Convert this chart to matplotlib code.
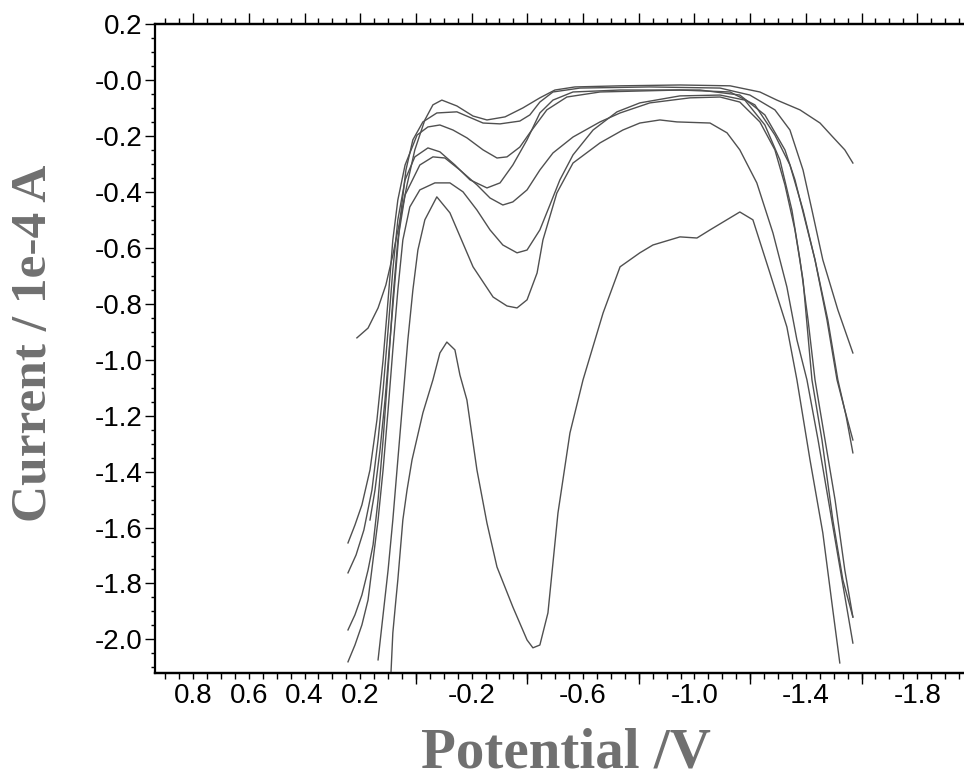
import numpy as np
import matplotlib.pyplot as plt
from matplotlib.ticker import MultipleLocator

# potential (V) / current (1e-4 A), one pair per sweep
curve_a_v = [0.212, 0.172, 0.136, 0.108, 0.083, 0.057, 0.032, 0.004, -0.032, -0.061, -0.093, -0.147,
             -0.205, -0.255, -0.320, -0.384, -0.445, -0.499, -0.571, -0.733, -0.948, -1.128, -1.235,
             -1.296, -1.379, -1.451, -1.497, -1.540, -1.569]
curve_a_i = [-0.922, -0.887, -0.815, -0.733, -0.626, -0.500, -0.375, -0.250, -0.143, -0.089, -0.072, -0.093,
             -0.129, -0.143, -0.132, -0.100, -0.064, -0.036, -0.025, -0.021, -0.018, -0.021, -0.043,
             -0.072, -0.107, -0.154, -0.204, -0.250, -0.297]

curve_b_v = [0.165, 0.147, 0.129, 0.111, 0.093, 0.075, 0.057, 0.036, 0.011, -0.025, -0.075, -0.147,
             -0.241, -0.302, -0.373, -0.409, -0.445, -0.492, -0.589, -0.840, -1.092, -1.199, -1.289,
             -1.343, -1.390, -1.422, -1.461, -1.515, -1.569]
curve_b_i = [-1.573, -1.466, -1.323, -1.144, -0.929, -0.715, -0.500, -0.322, -0.214, -0.150, -0.118, -0.114,
             -0.154, -0.157, -0.147, -0.125, -0.079, -0.043, -0.029, -0.025, -0.029, -0.054, -0.107,
             -0.179, -0.322, -0.465, -0.643, -0.822, -0.976]

curve_c_v = [0.244, 0.219, 0.194, 0.165, 0.140, 0.118, 0.100, 0.083, 0.065, 0.039, -0.004, -0.043, -0.086,
             -0.133, -0.183, -0.241, -0.291, -0.327, -0.373, -0.409, -0.470, -0.542, -0.661, -0.948,
             -1.128, -1.217, -1.289, -1.343, -1.390, -1.433, -1.476, -1.512, -1.540, -1.569]
curve_c_i = [-1.655, -1.591, -1.519, -1.394, -1.215, -1.001, -0.786, -0.572, -0.429, -0.304, -0.197, -0.168,
             -0.161, -0.179, -0.207, -0.250, -0.279, -0.275, -0.240, -0.189, -0.107, -0.061, -0.043,
             -0.036, -0.043, -0.089, -0.197, -0.304, -0.465, -0.643, -0.858, -1.072, -1.180, -1.287]

curve_d_v = [0.244, 0.215, 0.187, 0.158, 0.136, 0.118, 0.100, 0.083, 0.065, 0.039, 0.004, -0.043, -0.086,
             -0.140, -0.194, -0.255, -0.302, -0.348, -0.399, -0.445, -0.492, -0.564, -0.733, -1.020,
             -1.163, -1.253, -1.325, -1.361, -1.397, -1.433, -1.479, -1.515, -1.544, -1.569]
curve_d_i = [-1.762, -1.698, -1.609, -1.466, -1.287, -1.108, -0.894, -0.679, -0.500, -0.357, -0.275, -0.243,
             -0.257, -0.304, -0.357, -0.386, -0.368, -0.304, -0.214, -0.118, -0.072, -0.043, -0.036,
             -0.036, -0.054, -0.125, -0.250, -0.357, -0.500, -0.643, -0.858, -1.072, -1.198, -1.333]

curve_e_v = [0.244, 0.219, 0.194, 0.172, 0.154, 0.136, 0.118, 0.100, 0.083, 0.065, 0.039, -0.014, -0.061,
             -0.104, -0.158, -0.219, -0.266, -0.312, -0.348, -0.399, -0.445, -0.492, -0.564, -0.661,
             -0.733, -0.840, -0.984, -1.092, -1.163, -1.235, -1.289, -1.325, -1.361, -1.390, -1.422,
             -1.458, -1.497, -1.533, -1.569]
curve_e_i = [-1.966, -1.912, -1.841, -1.752, -1.662, -1.501, -1.287, -1.037, -0.786, -0.572, -0.411, -0.304,
             -0.275, -0.279, -0.322, -0.375, -0.422, -0.447, -0.436, -0.393, -0.322, -0.261, -0.204,
             -0.150, -0.118, -0.082, -0.064, -0.061, -0.079, -0.150, -0.250, -0.375, -0.536, -0.715,
             -1.072, -1.287, -1.573, -1.787, -1.920]

curve_f_v = [0.244, 0.219, 0.194, 0.172, 0.154, 0.136, 0.118, 0.100, 0.083, 0.065, 0.047, 0.022, -0.014,
             -0.068, -0.122, -0.169, -0.219, -0.266, -0.312, -0.363, -0.399, -0.445, -0.481, -0.517,
             -0.564, -0.636, -0.722, -0.804, -0.948, -1.092, -1.181, -1.253, -1.307, -1.350, -1.379,
             -1.408, -1.433, -1.469, -1.505, -1.540, -1.569]
curve_f_i = [-2.080, -2.020, -1.948, -1.859, -1.716, -1.573, -1.394, -1.180, -0.965, -0.751, -0.572, -0.454,
             -0.393, -0.368, -0.368, -0.400, -0.465, -0.536, -0.590, -0.618, -0.608, -0.536, -0.447,
             -0.357, -0.268, -0.179, -0.114, -0.082, -0.057, -0.054, -0.072, -0.161, -0.286, -0.465,
             -0.643, -0.858, -1.072, -1.287, -1.501, -1.752, -1.920]

curve_g_v = [0.136, 0.118, 0.100, 0.083, 0.065, 0.047, 0.029, 0.011, -0.007, -0.032, -0.075, -0.122, -0.205,
             -0.277, -0.327, -0.363, -0.399, -0.435, -0.456, -0.506, -0.564, -0.661, -0.743, -0.804,
             -0.876, -0.937, -1.056, -1.117, -1.163, -1.224, -1.282, -1.332, -1.368, -1.404, -1.444,
             -1.487, -1.530, -1.569]
curve_g_i = [-2.073, -1.912, -1.752, -1.573, -1.358, -1.144, -0.929, -0.751, -0.608, -0.500, -0.418, -0.475,
             -0.668, -0.776, -0.808, -0.815, -0.786, -0.690, -0.572, -0.404, -0.297, -0.225, -0.179,
             -0.154, -0.143, -0.150, -0.154, -0.189, -0.250, -0.368, -0.547, -0.740, -0.929, -1.072,
             -1.287, -1.537, -1.787, -2.013]

curve_h_v = [0.090, 0.083, 0.072, 0.065, 0.047, 0.032, 0.014, -0.025, -0.061, -0.086, -0.111, -0.140,
             -0.158, -0.183, -0.219, -0.255, -0.291, -0.348, -0.399, -0.420, -0.445, -0.474, -0.510,
             -0.553, -0.600, -0.672, -0.733, -0.804, -0.851, -0.948, -1.009, -1.056, -1.163, -1.210,
             -1.271, -1.332, -1.368, -1.415, -1.461, -1.497, -1.522]
curve_h_i = [-2.127, -1.977, -1.859, -1.787, -1.573, -1.466, -1.358, -1.190, -1.072, -0.976, -0.937, -0.965,
             -1.055, -1.144, -1.394, -1.584, -1.741, -1.884, -2.002, -2.030, -2.020, -1.905, -1.548,
             -1.262, -1.072, -0.833, -0.668, -0.618, -0.590, -0.561, -0.565, -0.536, -0.472, -0.500,
             -0.690, -0.883, -1.072, -1.358, -1.619, -1.895, -2.084]

xtick_pos = [0.8, 0.6, 0.4, 0.2, -0.2, -0.6, -1.0, -1.4, -1.8]
xtick_labels = ['0.8', '0.6', '0.4', '0.2', '-0.2', '-0.6', '-1.0', '-1.4', '-1.8']
ytick_pos = [0.2, 0.0, -0.2, -0.4, -0.6, -0.8, -1.0, -1.2, -1.4, -1.6, -1.8, -2.0]
ytick_labels = ['0.2', '-0.0', '-0.2', '-0.4', '-0.6', '-0.8', '-1.0', '-1.2', '-1.4', '-1.6', '-1.8', '-2.0']
bottom_long_ticks = [0.0, -0.4, -0.8, -1.2, -1.6]
top_major_ticks = [0.8, 0.6, 0.4, 0.2, 0.0, -0.2, -0.4, -0.6, -0.8, -1.0, -1.2, -1.4, -1.6, -1.8]

curves = [
    (curve_a_v, curve_a_i), (curve_b_v, curve_b_i), (curve_c_v, curve_c_i), (curve_d_v, curve_d_i),
    (curve_e_v, curve_e_i), (curve_f_v, curve_f_i), (curve_g_v, curve_g_i), (curve_h_v, curve_h_i),
]

plt.rcParams['font.family'] = ['Liberation Sans', 'DejaVu Sans']

fig = plt.figure(figsize=(9.64, 7.78), dpi=100)
ax = fig.add_axes([155 / 964, 1 - 673 / 778, 809 / 964, 649 / 778])

for v, i in curves:
    ax.plot(v, i, color='#505050', lw=1.0)

ax.set_xlim(0.937, -1.968)
ax.set_ylim(-2.12, 0.2)

ax.spines['right'].set_visible(False)
for s in ['top', 'left', 'bottom']:
    ax.spines[s].set_linewidth(1.6)

ax.set_xticks(xtick_pos)
ax.set_xticklabels(xtick_labels)
ax.xaxis.set_minor_locator(MultipleLocator(0.05))
ax.set_yticks(ytick_pos)
ax.set_yticklabels(ytick_labels)
ax.yaxis.set_minor_locator(MultipleLocator(0.05))
ax.tick_params(which='major', direction='out', length=4, width=1, labelsize=20, pad=3)
ax.tick_params(which='minor', direction='out', length=4, width=1)
ax.tick_params(axis='y', which='major', length=7, pad=2)
ax.tick_params(axis='y', which='minor', length=3)

# longer bottom ticks every 0.4 V
bot = ax.secondary_xaxis('bottom')
bot.set_xticks(bottom_long_ticks)
bot.set_xticklabels([])
bot.tick_params(direction='out', length=8, width=1)
bot.spines['bottom'].set_linewidth(1.6)

top = ax.secondary_xaxis('top')
top.set_xticks(top_major_ticks)
top.set_xticklabels([])
top.xaxis.set_minor_locator(MultipleLocator(0.05))
top.tick_params(which='major', direction='out', length=8, width=1)
top.tick_params(which='minor', direction='out', length=4, width=1)
top.spines['top'].set_linewidth(1.6)

label_font = dict(family=['Liberation Serif', 'DejaVu Serif'], weight='bold', color='#707070')
fig.text(34 / 964, 1 - 343 / 778, 'Current / 1e-4 A', rotation=90, ha='center', va='center',
         fontsize=37, **label_font)
fig.text(566 / 964, 1 - 753 / 778, 'Potential /V', ha='center', va='center', fontsize=41, **label_font)

fig.savefig('out.png', dpi=100)
